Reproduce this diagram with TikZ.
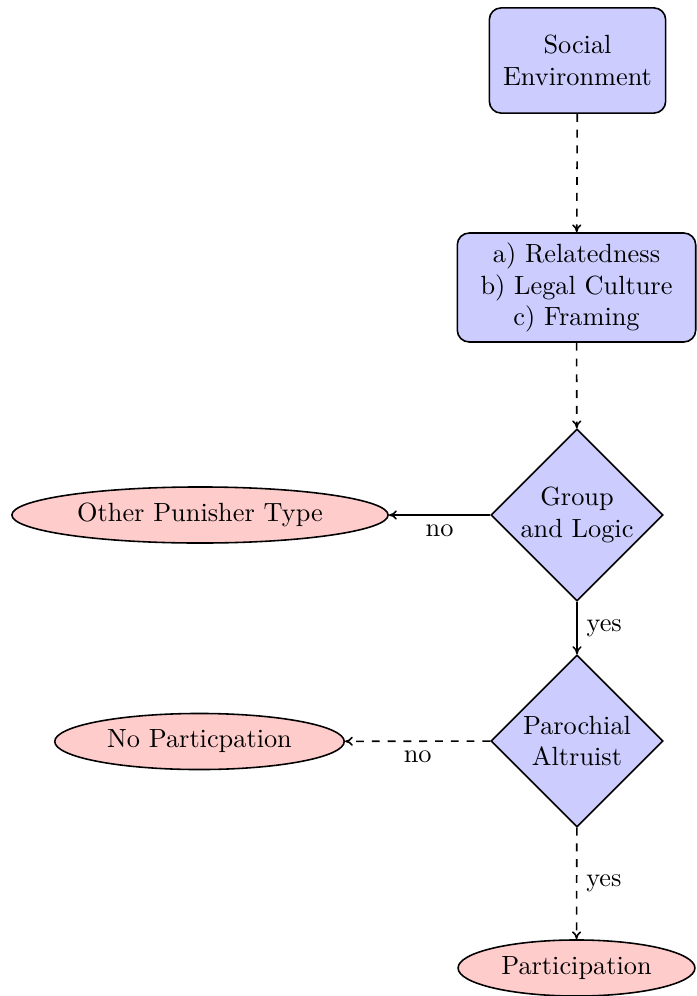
\documentclass[tikz,border=0pt]{standalone}
\usetikzlibrary{shapes.geometric,arrows.meta}
\begin{document}
\begin{tikzpicture}[x=0.38pt,y=-0.38pt,
  blockbox/.style={rectangle,rounded corners=4.5pt,draw,semithick,fill=blue!20,align=center,inner sep=0pt},
  decide/.style={diamond,draw,semithick,fill=blue!20,align=center,inner sep=0pt,minimum width=65.4pt,minimum height=65.4pt},
  outcome/.style={ellipse,draw,semithick,fill=red!20,inner sep=0pt,minimum height=21.3pt},
  conn/.style={semithick,-{To[length=3pt,width=3.5pt]}},
  lab/.style={font=\normalsize}
]
\useasboundingbox (0,0) rectangle (696,996);
\node[blockbox,minimum width=67pt,minimum height=40pt] (soc) at (577.5,60.5) {Social\\Environment};
\node[blockbox,minimum width=90.6pt,minimum height=41.4pt] (rel) at (576.5,287.5) {a) Relatedness\\b) Legal Culture\\c) Framing};
\node[decide] (grp) at (577,515) {Group\\and Logic};
\node[decide] (par) at (577,741) {Parochial\\Altruist};
\node[outcome,minimum width=143pt] (oth) at (200,515) {Other Punisher Type};
\node[outcome,minimum width=110pt] (nop) at (199.5,741.5) {No Particpation};
\node[outcome,minimum width=90pt] (yp) at (576.5,968) {Participation};
\draw[conn,dashed] (soc) -- (rel);
\draw[conn,dashed] (rel) -- (grp);
\draw[conn] (grp) -- node[below,lab] {no} (oth);
\draw[conn] (grp) -- node[right,lab] {yes} (par);
\draw[conn,dashed] (par) -- node[below,lab] {no} (nop);
\draw[conn,dashed] (par) -- node[right,lab] {yes} (yp);
\end{tikzpicture}
\end{document}
